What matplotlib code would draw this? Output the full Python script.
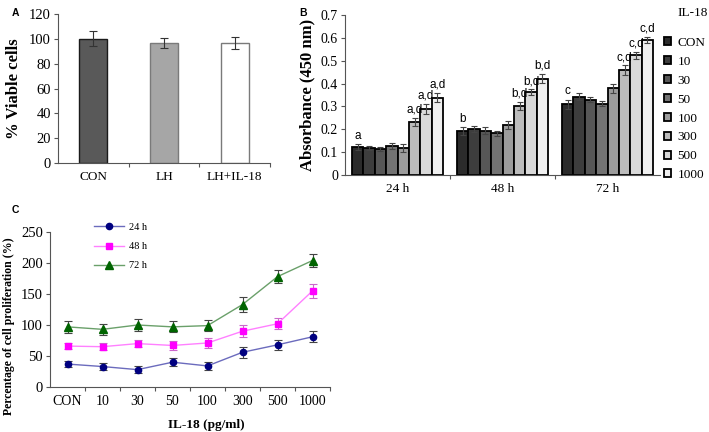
import numpy as np
import matplotlib
matplotlib.use("Agg")
import matplotlib.pyplot as plt

# Panel A
a_groups = ["CON", "LH", "LH+IL-18"]
a_vals = [100, 97, 96.5]
a_errs = [6, 4, 5]

# Panel B
b_times = ["24 h", "48 h", "72 h"]
b_doses = ["CON", "10", "30", "50", "100", "300", "500", "1000"]
b_vals = {
    "24 h": [0.122, 0.118, 0.113, 0.126, 0.118, 0.232, 0.290, 0.338],
    "48 h": [0.192, 0.200, 0.193, 0.182, 0.218, 0.302, 0.363, 0.422],
    "72 h": [0.310, 0.343, 0.330, 0.312, 0.380, 0.458, 0.523, 0.590],
}
b_errs = {
    "24 h": [0.012, 0.010, 0.010, 0.012, 0.018, 0.018, 0.022, 0.020],
    "48 h": [0.016, 0.013, 0.015, 0.012, 0.018, 0.018, 0.012, 0.020],
    "72 h": [0.020, 0.015, 0.012, 0.010, 0.020, 0.022, 0.016, 0.014],
}
b_marks = {
    "24 h": ["a", "", "", "", "", "a,d", "a,d", "a,d"],
    "48 h": ["b", "", "", "", "", "b,d", "b,d", "b,d"],
    "72 h": ["c", "", "", "", "", "c,d", "c,d", "c,d"],
}

# Panel C
c_doses = ["CON", "10", "30", "50", "100", "300", "500", "1000"]
c_24 = [37, 33, 28, 40, 34, 56, 68, 81]
c_24_err = [5, 6, 6, 6, 6, 9, 8, 9]
c_48 = [66, 65, 70, 67, 71, 90, 102, 155]
c_48_err = [5, 6, 6, 7, 8, 10, 9, 11]
c_72 = [97, 93, 100, 97, 99, 133, 178, 204]
c_72_err = [10, 9, 10, 9, 9, 12, 10, 10]

W, H = 709, 432
SERIF = "Liberation Serif"
SANS = "Liberation Sans"


def px_axes(fig, left, top, right, bottom):
    return fig.add_axes([left / W, (H - bottom) / H, (right - left) / W, (bottom - top) / H])


def style(ax, ysize=10, xsize=9.5):
    for s in ("top", "right"):
        ax.spines[s].set_visible(False)
    for s in ("left", "bottom"):
        ax.spines[s].set_color("#555555")
        ax.spines[s].set_linewidth(0.8)
    ax.tick_params(axis="y", direction="out", length=3, width=0.8, color="#555555",
                   labelsize=ysize, labelfontfamily=SERIF, pad=2)
    ax.tick_params(axis="x", which="major", length=0, labelsize=xsize, labelfontfamily=SERIF, pad=6)
    ax.tick_params(axis="x", which="minor", direction="out", length=3, width=0.8, color="#555555")


fig = plt.figure(figsize=(W / 100, H / 100), dpi=100)

# ---- A ----
ax = px_axes(fig, 58, 14, 270, 163)
x = np.arange(len(a_groups))
ax.bar(x, a_vals, width=0.4, color=["#595959", "#a6a6a6", "white"],
       edgecolor=["#1a1a1a", "#7a7a7a", "#7a7a7a"], linewidth=1.0,
       yerr=a_errs, capsize=3, error_kw=dict(elinewidth=0.8, ecolor="#333333", capthick=0.8))
ax.set_xlim(-0.5, 2.5)
ax.set_ylim(0, 120)
ax.set_yticks(range(0, 121, 20))
ax.set_xticks(x)
ax.set_xticklabels(a_groups)
ax.set_xticks([0.5, 1.5, 2.5], minor=True)
style(ax, ysize=10.5, xsize=9.5)
ax.set_ylabel("% Viable cells", fontfamily=SERIF, fontweight="bold", fontsize=12, labelpad=5)
fig.text(15 / W, 1 - 13 / H, "A", fontfamily=SANS, fontweight="bold", fontsize=7.5, va="center", ha="center")

# ---- B ----
ax = px_axes(fig, 345, 15, 660, 175)
grey = ["#2b2b2b", "#3d3d3d", "#575757", "#737373", "#9c9c9c", "#bcbcbc", "#d9d9d9", "#f0f0f0"]
nb = len(b_doses)
bw = 0.87 / nb
for gi, t in enumerate(b_times):
    for di in range(nb):
        xpos = gi - 0.435 + bw * (di + 0.5)
        v = b_vals[t][di]
        e = b_errs[t][di]
        ax.bar(xpos, v, width=bw, color=grey[di], edgecolor="black", linewidth=1.3,
               yerr=e, capsize=2.5, error_kw=dict(elinewidth=0.8, ecolor="#444444", capthick=0.8),
               label=b_doses[di] if gi == 0 else None)
        if b_marks[t][di]:
            ax.text(xpos, v + e + 0.01, b_marks[t][di], ha="center", va="bottom",
                    fontfamily=SANS, fontsize=8.5)
ax.set_xlim(-0.5, 2.5)
ax.set_ylim(0, 0.7)
yt = np.arange(0, 0.71, 0.1)
ax.set_yticks(yt)
ax.set_yticklabels(["0"] + ["%.1f" % v for v in yt[1:]])
ax.set_xticks(range(3))
ax.set_xticklabels(b_times)
ax.set_xticks([0.5, 1.5], minor=True)
style(ax, ysize=10, xsize=9.5)
ax.set_ylabel("Absorbance (450 nm)", fontfamily=SERIF, fontweight="bold", fontsize=12, labelpad=4)
ax.legend(loc="upper left", bbox_to_anchor=(0.995, 0.895), frameon=False,
          prop=dict(family=SERIF, size=9.5), handlelength=0.55, handleheight=0.55,
          handletextpad=0.5, labelspacing=0.52, borderaxespad=0)
fig.text(708 / W, 1 - 13 / H, "IL-18", fontfamily=SERIF, fontsize=9.5, va="center", ha="right")
fig.text(303 / W, 1 - 13 / H, "B", fontfamily=SANS, fontweight="bold", fontsize=7.5, va="center", ha="center")

# ---- C ----
ax = px_axes(fig, 50, 232, 330, 387)
xc = np.arange(len(c_doses))
series = [
    ("24 h", c_24, c_24_err, "#6b6bbd", "#000080", "o", 4.5, "#444444"),
    ("48 h", c_48, c_48_err, "#ff80ff", "#ff00ff", "s", 5, "#cc66cc"),
    ("72 h", c_72, c_72_err, "#6aa06a", "#006400", "^", 5.5, "#444444"),
]
handles = []
for lab, ys, es, lc, mc, mk, ms, ec in series:
    ax.errorbar(xc, ys, yerr=es, fmt="none", ecolor=ec, elinewidth=0.8, capsize=3, capthick=0.8)
    h, = ax.plot(xc, ys, color=lc, lw=1.0, marker=mk, markersize=ms,
                 markerfacecolor=mc, markeredgecolor=mc, label=lab)
    handles.append(h)
ax.set_xlim(-0.5, 7.5)
ax.set_ylim(0, 250)
ax.set_yticks(range(0, 251, 50))
ax.set_xticks(xc)
ax.set_xticklabels(c_doses)
ax.set_xticks(np.arange(0.5, 7.6, 1), minor=True)
style(ax, ysize=10.5, xsize=10)
ax.tick_params(axis="x", which="major", pad=6)
ax.set_ylabel("Percentage of cell proliferation (%)", fontfamily=SERIF, fontweight="bold",
              fontsize=8.5)
ax.yaxis.set_label_coords(-35 / 280, 0.39)
ax.set_xlabel("IL-18 (pg/ml)", fontfamily=SERIF, fontweight="bold", fontsize=9.5)
ax.xaxis.set_label_coords(0.56, -32 / 155)
ax.legend(handles=handles, loc="upper left", bbox_to_anchor=(0.125, 1.12), frameon=False,
          prop=dict(family=SERIF, size=7.5), handlelength=2.8, labelspacing=0.95,
          handletextpad=0.5)
fig.text(15 / W, 1 - 210 / H, "C", fontfamily=SANS, fontweight="bold", fontsize=7.5, va="center", ha="center")

fig.savefig("out.png", dpi=100)
